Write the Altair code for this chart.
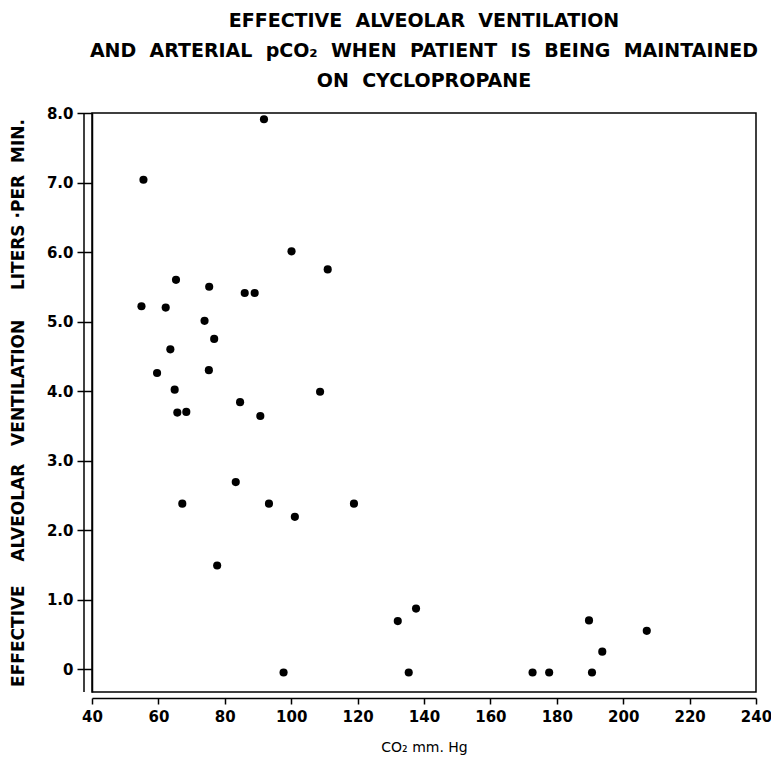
import altair as alt
import pandas as pd

# ---- data ----
co2 = [91.8, 55.5, 100.1, 111.0, 65.3, 75.3, 86.0, 89.0, 54.9, 62.2,
       73.9, 76.8, 63.6, 59.6, 75.2, 64.9, 108.7, 65.7, 68.4, 84.6,
       90.7, 83.3, 67.2, 93.3, 101.1, 118.9, 77.7, 132.1, 137.6, 189.7,
       207.1, 193.7, 97.7, 135.4, 172.7, 177.7, 190.6]
ventilation = [7.91, 7.04, 6.01, 5.75, 5.60, 5.50, 5.41, 5.41, 5.22, 5.20,
               5.01, 4.75, 4.60, 4.26, 4.30, 4.02, 3.99, 3.69, 3.70, 3.84,
               3.64, 2.69, 2.38, 2.38, 2.19, 2.38, 1.49, 0.69, 0.87, 0.70,
               0.55, 0.25, -0.05, -0.05, -0.05, -0.05, -0.05]

x_ticks = [40, 60, 80, 100, 120, 140, 160, 180, 200, 220, 240]
y_ticks = [0, 1, 2, 3, 4, 5, 6, 7, 8]
x_domain = [40, 240]
y_domain = [-0.33, 8.0]

title_lines = [
    "EFFECTIVE  ALVEOLAR  VENTILATION",
    "AND  ARTERIAL  pCO\u2082  WHEN  PATIENT  IS  BEING  MAINTAINED",
    "ON  CYCLOPROPANE",
]
y_title = "EFFECTIVE    ALVEOLAR   VENTILATION     LITERS \u00b7PER  MIN."
x_title = "CO\u2082 mm. Hg"

# nbsp so that double spaces survive SVG whitespace collapsing
def keep_spaces(s):
    return s.replace("  ", "\u00a0\u00a0").replace("\u00a0 ", "\u00a0\u00a0")

title_lines = [keep_spaces(t) for t in title_lines]
y_title = keep_spaces(y_title)

FONT = "DejaVu Sans"
W, H = 664, 579

df = pd.DataFrame({"co2": co2, "vent": ventilation})

x_scale = alt.Scale(domain=x_domain, nice=False, zero=False)
y_scale = alt.Scale(domain=y_domain, nice=False, zero=False)

points = alt.Chart(df).mark_circle(size=66, color="black", opacity=1).encode(
    x=alt.X(
        "co2:Q",
        scale=x_scale,
        axis=alt.Axis(
            values=x_ticks,
            title=x_title,
            offset=6,
            tickSize=6,
            labelPadding=5,
            labelFlush=False,
            titlePadding=16,
            titleFontSize=14,
            titleFontWeight="normal",
            grid=False,
        ),
    ),
    y=alt.Y(
        "vent:Q",
        scale=y_scale,
        axis=alt.Axis(
            values=y_ticks,
            labelExpr="datum.value == 0 ? '0' : format(datum.value, '.1f')",
            labelFlush=False,
            title=y_title,
            tickSize=15,
            labelPadding=4,
            titlePadding=19,
            titleFontSize=17,
            titleFontWeight="bold",
            grid=False,
        ),
    ),
)

outer_df = pd.DataFrame({"x": [x_domain[0]], "y": [y_domain[1]], "y2": [y_domain[0]]})
outer_left = alt.Chart(outer_df).mark_rule(color="black", strokeWidth=1.5, xOffset=-8).encode(
    x=alt.X("x:Q", scale=x_scale),
    y=alt.Y("y:Q", scale=y_scale),
    y2="y2:Q",
)

chart = (
    alt.layer(points, outer_left)
    .properties(
        width=W,
        height=H,
        autosize=alt.AutoSizeParams(type="none"),
        padding={"left": 84, "top": 105, "right": 15, "bottom": 66},
        title=alt.TitleParams(
            title_lines,
            font=FONT,
            fontSize=19,
            fontWeight="bold",
            lineHeight=30,
            anchor="middle",
            offset=15,
            color="black",
        ),
    )
    .configure_view(stroke="black", strokeWidth=1.5)
    .configure_axis(
        labelFont=FONT,
        titleFont=FONT,
        labelFontSize=15,
        labelFontWeight="bold",
        labelColor="black",
        titleColor="black",
        domainColor="black",
        tickColor="black",
        domainWidth=1.5,
        tickWidth=1.5,
    )
)

chart.save("out.html", embed_options={"renderer": "svg", "actions": False})
